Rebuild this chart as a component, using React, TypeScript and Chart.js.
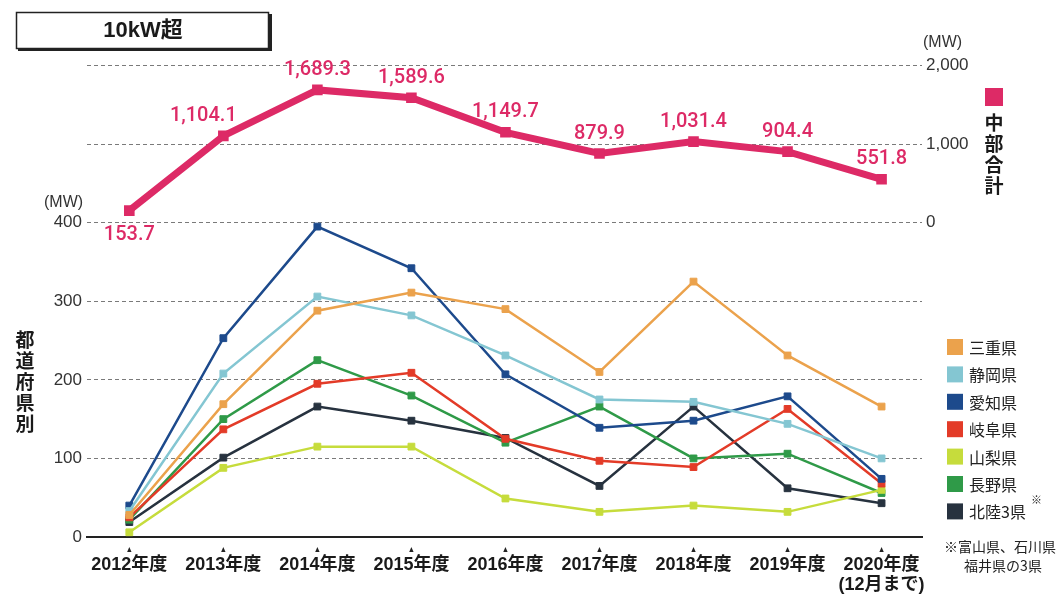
import React, { useEffect, useRef } from "react";
import { Chart, registerables } from "chart.js";

Chart.register(...registerables);

const categories: string[][] = [
  ["2012年度"], ["2013年度"], ["2014年度"], ["2015年度"], ["2016年度"],
  ["2017年度"], ["2018年度"], ["2019年度"], ["2020年度", "(12月まで)"],
];

const chubuTotal = [153.7, 1104.1, 1689.3, 1589.6, 1149.7, 879.9, 1031.4, 904.4, 551.8];

const mie = [28, 169, 288, 311, 290, 210, 325, 231, 166];
const shizuoka = [33, 208, 306, 282, 231, 175, 172, 144, 100];
const aichi = [40, 253, 395, 342, 207, 139, 148, 179, 74];
const gifu = [25, 137, 195, 209, 125, 97, 89, 163, 68];
const yamanashi = [6, 88, 115, 115, 49, 32, 40, 32, 60];
const nagano = [22, 150, 225, 180, 120, 166, 100, 106, 56];
const hokuriku = [19, 101, 166, 148, 126, 65, 166, 62, 43];

const prefNames = ["三重県", "静岡県", "愛知県", "岐阜県", "山梨県", "長野県", "北陸3県"];
const prefSeries = [mie, shizuoka, aichi, gifu, yamanashi, nagano, hokuriku];
const prefColors = ["#eba24c", "#84c6d2", "#1d4a8c", "#e33b28", "#c6dc3c", "#2f9a48", "#27323f"];

const leftTicks = [0, 100, 200, 300, 400];
const rightTicks = [0, 1000, 2000];
const totalLabelPlacement = ["below", "left", "above", "above", "above", "above", "above", "above", "above"];

const PINK = "#dd2a66";
const JP = '"Noto Sans CJK JP", sans-serif';
const NUM = '"Liberation Sans", "Noto Sans CJK JP", sans-serif';

const decorPlugin = {
  id: "decor",
  afterDraw(chart: any) {
    const ctx = chart.ctx;
    const xs = chart.scales.x;
    const ys = chart.scales.y;
    ctx.save();

    // title box
    ctx.fillStyle = "#222";
    ctx.fillRect(18, 14, 254, 37);
    ctx.fillStyle = "#fff";
    ctx.fillRect(16, 12, 252, 36);
    ctx.strokeStyle = "#222";
    ctx.lineWidth = 1.5;
    ctx.strokeRect(16.5, 12.5, 252, 36);
    ctx.fillStyle = "#1a1a1a";
    ctx.font = 'bold 22px "Liberation Sans", "Noto Sans CJK JP", sans-serif';
    ctx.textAlign = "center";
    ctx.textBaseline = "middle";
    ctx.fillText("10kW超", 143, 31);

    // (MW) labels
    ctx.font = "16px " + NUM;
    ctx.fillStyle = "#333";
    ctx.textAlign = "left";
    ctx.fillText("(MW)", 44, 203);
    ctx.fillText("(MW)", 923, 43);

    // triangles under x ticks
    ctx.fillStyle = "#222";
    categories.forEach((_, i) => {
      const px = xs.getPixelForValue(i);
      const top = ys.bottom + 10;
      ctx.beginPath();
      ctx.moveTo(px, top);
      ctx.lineTo(px - 2.2, top + 5);
      ctx.lineTo(px + 2.2, top + 5);
      ctx.closePath();
      ctx.fill();
    });

    // vertical text 都道府県別
    ctx.font = "bold 19px " + JP;
    ctx.fillStyle = "#1a1a1a";
    ctx.textAlign = "center";
    ctx.textBaseline = "middle";
    Array.from("都道府県別").forEach((c, i) => ctx.fillText(c, 25, 340 + i * 21));

    // 中部合計 marker + vertical text
    ctx.fillStyle = PINK;
    ctx.fillRect(985, 88, 18, 18);
    ctx.fillStyle = "#1a1a1a";
    Array.from("中部合計").forEach((c, i) => ctx.fillText(c, 994, 123 + i * 21));

    // legend
    ctx.font = "16px " + JP;
    ctx.textAlign = "left";
    prefNames.forEach((name, i) => {
      const cy = 347 + i * 27.4;
      ctx.fillStyle = prefColors[i];
      ctx.fillRect(947, cy - 8, 16, 16);
      ctx.fillStyle = "#222";
      ctx.fillText(name, 969, cy + 1);
    });
    ctx.font = "11px " + JP;
    ctx.fillText("※", 1031, 500);

    // footnote
    ctx.font = "14px " + JP;
    ctx.fillStyle = "#222";
    ctx.textAlign = "center";
    ctx.fillText("※富山県、石川県", 1000, 547);
    ctx.fillText("福井県の3県", 1003, 566);

    // total value labels
    const meta = chart.getDatasetMeta(0);
    ctx.font = '500 20px Roboto, "Liberation Sans", sans-serif';
    ctx.fillStyle = PINK;
    ctx.textAlign = "center";
    ctx.textBaseline = "middle";
    meta.data.forEach((pt: any, i: number) => {
      const v = chubuTotal[i];
      const txt = v.toLocaleString("en-US", { minimumFractionDigits: 1, maximumFractionDigits: 1 });
      const mode = totalLabelPlacement[i];
      let lx = pt.x;
      let ly = pt.y - 20;
      if (mode === "below") ly = pt.y + 24;
      if (mode === "left") { lx = pt.x - 20; ly = pt.y - 20; }
      ctx.fillText(txt, lx, ly);
    });

    ctx.restore();
  },
};

export default function App() {
  const ref = useRef<HTMLCanvasElement | null>(null);

  useEffect(() => {
    if (!ref.current) return;
    const prefDatasets = prefSeries.map((s, k) => ({
      label: prefNames[k],
      data: s.map((v, i) => ({ x: i, y: v })),
      borderColor: prefColors[k],
      backgroundColor: prefColors[k],
      pointBorderColor: prefColors[k],
      borderWidth: 2.5,
      pointStyle: "rect",
      pointRadius: 4.8,
      pointBorderWidth: 1,
      yAxisID: "y",
      order: 2,
    }));
    const chart = new Chart(ref.current, {
      type: "line",
      data: {
        datasets: [
          {
            label: "中部合計",
            data: chubuTotal.map((v, i) => ({ x: i, y: v })),
            borderColor: PINK,
            backgroundColor: PINK,
            borderWidth: 7,
            pointStyle: "rect",
            pointRadius: 7.5,
            pointBorderWidth: 0,
            yAxisID: "y2",
            order: 1,
          },
          ...prefDatasets,
        ] as any,
      },
      options: {
        animation: false,
        responsive: false,
        devicePixelRatio: 1,
        layout: { padding: { top: 65.5, left: 0, right: 0, bottom: 0 } },
        plugins: { legend: { display: false }, tooltip: { enabled: false } },
        scales: {
          x: {
            type: "linear",
            min: -0.45,
            max: 8.43,
            afterFit: (s: any) => { s.height = 57; },
            grid: { display: false, drawTicks: false },
            border: { display: true, color: "#222", width: 2 },
            ticks: {
              stepSize: 1,
              includeBounds: false,
              autoSkip: false,
              maxRotation: 0,
              padding: 18,
              color: "#1a1a1a",
              font: { family: NUM, size: 18, weight: "bold", lineHeight: 1.1 },
              callback: (v: any) => (Number.isInteger(v) && categories[v] ? categories[v] : ""),
            },
          },
          y: {
            position: "left",
            min: 0,
            max: 600,
            afterFit: (s: any) => { s.width = 87; },
            afterBuildTicks: (s: any) => { s.ticks = [0, 100, 200, 300, 400, 500, 600].map((v) => ({ value: v })); },
            grid: { color: "#7a7a7a", lineWidth: 1, drawTicks: false },
            border: { display: false, dash: [4, 3] },
            ticks: {
              padding: 5,
              color: "#333",
              font: { family: NUM, size: 17 },
              callback: (v: any) => (leftTicks.includes(v) ? String(v) : ""),
            },
          },
          y2: {
            position: "right",
            min: -4000,
            max: 2000,
            afterFit: (s: any) => { s.width = 139; },
            afterBuildTicks: (s: any) => { s.ticks = rightTicks.map((v) => ({ value: v })); },
            grid: { display: false, drawTicks: false },
            border: { display: false },
            ticks: {
              padding: 4,
              color: "#333",
              font: { family: NUM, size: 17 },
              callback: (v: any) => Number(v).toLocaleString("en-US"),
            },
          },
        },
      } as any,
      plugins: [decorPlugin],
    });
    return () => chart.destroy();
  }, []);

  return (
    <div style={{ position: "fixed", left: 0, top: 0, width: 1061, height: 594, background: "#fff" }}>
      <canvas ref={ref} width={1061} height={594} style={{ width: 1061, height: 594, display: "block" }} />
    </div>
  );
}
